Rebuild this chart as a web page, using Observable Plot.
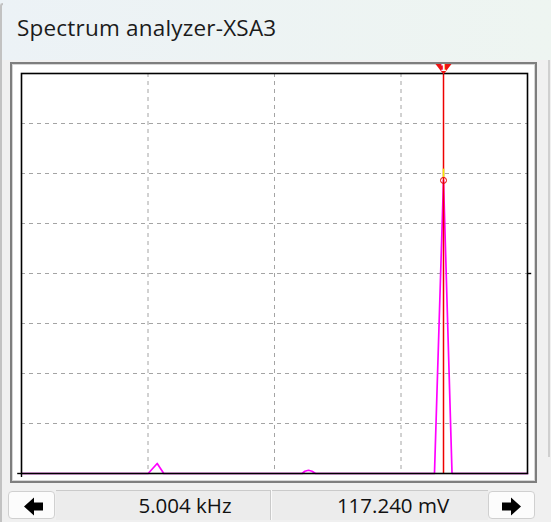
<!DOCTYPE html>
<html><head><meta charset="utf-8">
<script src="https://cdn.jsdelivr.net/npm/d3@7"></script>
<script src="https://cdn.jsdelivr.net/npm/@observablehq/plot@0.6"></script>
<style>
html,body{margin:0;padding:0;}
body{width:551px;height:522px;position:relative;overflow:hidden;background:#f0f0f0;font-family:"Open Sans","Noto Sans",sans-serif;}
#top{position:absolute;left:0;top:0;width:551px;height:60px;background:linear-gradient(90deg,#ecf2f6,#eef5f1);}
#edge{position:absolute;left:0;top:3px;width:3px;height:530px;border-left:2px solid #c2c2c2;border-top:2px solid #c2c2c2;border-top-left-radius:9px;box-sizing:border-box;}
#title{position:absolute;left:17px;top:12px;font-size:22.5px;letter-spacing:0.2px;color:#1b1b1b;white-space:nowrap;}
#panel{position:absolute;left:10px;top:62px;width:527px;height:421px;box-sizing:border-box;border:2px solid #7e7e7e;background:#fff;box-shadow:inset 1px 1px 0 #d6d6d6, inset -1px -1px 0 #d6d6d6;}
#sbar{position:absolute;left:548px;top:60px;width:2px;height:397px;background:#cfcfcf;}
#chart{position:absolute;left:0;top:50px;}
.btn{position:absolute;top:491px;width:47px;height:28px;box-sizing:border-box;border:1px solid #d0d0d0;border-radius:4px;background:#fcfcfc;}
.btn svg{position:absolute;left:0;top:0;}
#fields{position:absolute;left:56px;top:490px;width:432px;height:30px;background:#ececec;border-top:1px solid #cacaca;box-sizing:border-box;}
#div{position:absolute;left:270px;top:490px;width:1px;height:30px;background:#cacaca;box-shadow:1px 0 0 #fafafa;}
.val{position:absolute;top:491px;font-size:20.5px;color:#111;white-space:nowrap;transform:translateX(-50%);}
</style></head>
<body>
<div id="top"></div>
<div id="edge"></div>
<div id="title">Spectrum analyzer-XSA3</div>
<div id="panel"></div>
<div id="sbar"></div>
<div id="chart"></div>
<div class="btn" style="left:8px"><svg width="47" height="28"><path d="M15 14.5 L25 5.5 L25 10.5 L34 10.5 L34 18.5 L25 18.5 L25 23.5 Z" fill="#000"/></svg></div>
<div id="fields"></div>
<div id="div"></div>
<div class="btn" style="left:488px"><svg width="48" height="28"><path d="M32 14.5 L22 5.5 L22 10.5 L13 10.5 L13 18.5 L22 18.5 L22 23.5 Z" fill="#000"/></svg></div>
<div class="val" id="v1" style="left:185px"></div>
<div class="val" id="v2" style="left:393px"></div>
<script>
// Data (frequency in kHz, amplitude in mV)
const freqKHz     = [0, 1.502, 1.609, 1.687, 3.328, 3.36, 3.403, 3.445, 3.486, 4.897, 5.004, 5.105, 6];
const amplitudeMV = [0, 0,     4.0,   0,     0,     0.9,  1.3,   0.9,   0,     0,     117.24, 0,    0];
const freqDomain = [0, 6];
const ampDomain = [0, 160];
const gridFreqKHz = [1.5, 3, 4.5];
const gridMV = [20, 40, 60, 80, 100, 120, 140];
const cursorKHz = [5.004];
const cursorMV = [117.24];
const markerLabel = ["1"];
const readoutFreq = "5.004 kHz";
const readoutAmp = "117.240 mV";
const titleText = "Spectrum analyzer-XSA3";

document.getElementById("title").textContent = titleText;
document.getElementById("v1").textContent = readoutFreq;
document.getElementById("v2").textContent = readoutAmp;

const spectrum = freqKHz.map((f, i) => ({f, a: amplitudeMV[i]}));
const cursor = cursorKHz.map((f, i) => ({f, a: cursorMV[i], label: markerLabel[i]}));

const flatTri = {
  draw(ctx) {
    ctx.moveTo(-8, -5.5); ctx.lineTo(8, -5.5); ctx.lineTo(0, 5); ctx.closePath();
  }
};

const chart = Plot.plot({
  width: 551, height: 440,
  marginLeft: 21, marginRight: 24, marginTop: 23, marginBottom: 17,
  style: {background: "transparent", overflow: "visible"},
  x: {domain: freqDomain, axis: null},
  y: {domain: ampDomain, axis: null},
  marks: [
    Plot.ruleX(gridFreqKHz, {stroke: "#a4a4a4", strokeDasharray: "4,4", strokeWidth: 1}),
    Plot.ruleY(gridMV, {stroke: "#a4a4a4", strokeDasharray: "4,4", strokeWidth: 1}),
    Plot.line(spectrum, {x: "f", y: "a", stroke: "#ff00ff", strokeWidth: 1.7}),
    Plot.ruleX(cursor, {x: "f", stroke: "#ee0000", strokeWidth: 1.5}),
    Plot.ruleX(cursor, {x: "f", y1: d => d.a + 1, y2: d => d.a + 4.5, stroke: "#f0f000", strokeWidth: 1.5}),
    Plot.dot(cursor, {x: "f", y: "a", r: 3, stroke: "#e30000", fill: "none", strokeWidth: 1}),
    Plot.frame({stroke: "#000", strokeWidth: 1.6}),
    Plot.ruleY([80], {x1: freqDomain[1], x2: freqDomain[1] + 0.05, stroke: "#000", strokeWidth: 1.4}),
    Plot.ruleX([freqDomain[0]], {y1: 0, y2: -1.6, stroke: "#000", strokeWidth: 1.4}),
    Plot.ruleY([ampDomain[0]], {x1: 0, x2: -0.045, stroke: "#000", strokeWidth: 1.4}),
    Plot.dot(cursor, {x: "f", y: () => ampDomain[1], dy: -4, symbol: flatTri, r: 6, fill: "#ee1111", stroke: "none"}),
    Plot.text(cursor, {x: "f", y: () => ampDomain[1], text: "label", dy: -5, fill: "#fff", fontSize: 9, fontWeight: "bold", fontFamily: "DejaVu Sans"})
  ]
});
document.getElementById("chart").appendChild(chart);
</script>
</body></html>
